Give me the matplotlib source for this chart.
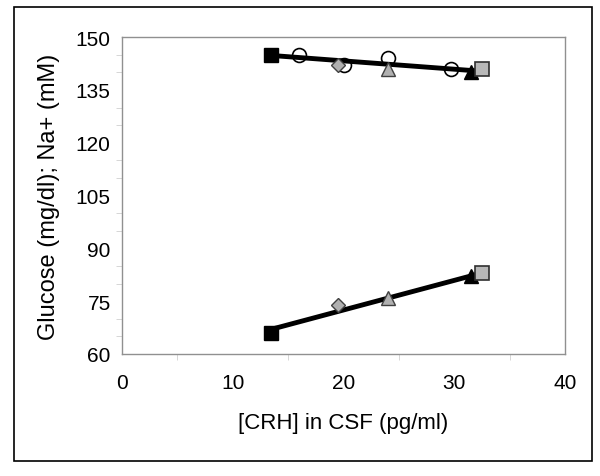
import matplotlib
matplotlib.use("Agg")
import matplotlib.pyplot as plt
from matplotlib.patches import Rectangle
from matplotlib.ticker import MultipleLocator

plt.rcParams['font.family'] = ['Liberation Sans', 'DejaVu Sans']

# Na+ (upper group)
na_sq_black = ([13.5], [145])
na_circle = ([16.0, 20.0, 24.0, 29.7], [145, 142, 144, 141])
na_diamond = ([19.5], [142])
na_tri_gray = ([24.0], [141])
na_tri_black = ([31.5], [140])
na_sq_gray = ([32.5], [141])
na_trend_x = [13.5, 32.5]
na_trend_y = [144.8, 140.3]

# Glucose (lower group)
gl_sq_black = ([13.5], [66])
gl_diamond = ([19.5], [74])
gl_tri_gray = ([24.0], [76])
gl_tri_black = ([31.5], [82])
gl_sq_gray = ([32.5], [83])
gl_trend_x = [13.5, 32.5]
gl_trend_y = [67.0, 83.0]

fig = plt.figure(figsize=(6.0, 4.77), dpi=100)
ax = fig.add_axes([0.203, 0.256, 0.739, 0.664])

ax.plot(na_trend_x, na_trend_y, color='black', lw=3.5, zorder=2)
ax.plot(gl_trend_x, gl_trend_y, color='black', lw=3.5, zorder=2)

ms = 10
for pts in (na_circle,):
    ax.plot(*pts, 'o', ms=ms, mfc='none', mec='black', mew=1.2, zorder=3)
for pts in (na_diamond, gl_diamond):
    ax.plot(*pts, 'D', ms=7.5, mfc='#b0b0b0', mec='#404040', mew=1.0, zorder=3)
for pts in (na_tri_gray, gl_tri_gray):
    ax.plot(*pts, '^', ms=ms, mfc='#b0b0b0', mec='#404040', mew=1.0, zorder=3)
for pts in (na_tri_black, gl_tri_black):
    ax.plot(*pts, '^', ms=ms, mfc='black', mec='black', zorder=3)
for pts in (na_sq_gray, gl_sq_gray):
    ax.plot(*pts, 's', ms=ms, mfc='#b8b8b8', mec='#303030', mew=1.2, zorder=3)
for pts in (na_sq_black, gl_sq_black):
    ax.plot(*pts, 's', ms=ms, mfc='black', mec='black', zorder=4)

ax.set_xlim(0, 40)
ax.set_ylim(60, 150)
ax.xaxis.set_major_locator(MultipleLocator(10))
ax.xaxis.set_minor_locator(MultipleLocator(5))
ax.yaxis.set_major_locator(MultipleLocator(15))
ax.yaxis.set_minor_locator(MultipleLocator(5))
ax.tick_params(axis='both', which='major', labelsize=15, length=0, pad=14)
ax.tick_params(axis='y', which='major', pad=8)
ax.tick_params(axis='both', which='minor', length=4, color='#d0d0d0')
for s in ax.spines.values():
    s.set_color('#909090')
    s.set_linewidth(1.0)

ax.set_xlabel('[CRH] in CSF (pg/ml)', fontsize=16, labelpad=14)
ax.set_ylabel('Glucose (mg/dl); Na+ (mM)', fontsize=17, labelpad=11)

fig.patches.append(Rectangle((14 / 600, 1 - 462 / 477), 578 / 600, 454 / 477,
                             transform=fig.transFigure, fill=False,
                             edgecolor='black', lw=1.2))

fig.savefig('out.png', dpi=100)
